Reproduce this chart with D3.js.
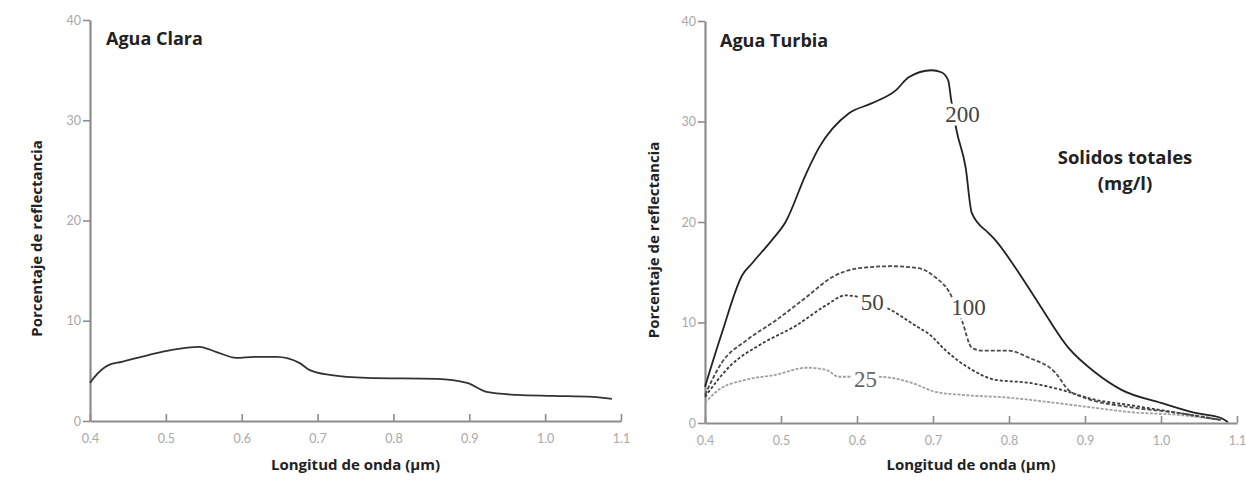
<!DOCTYPE html>
<html>
<head>
<meta charset="utf-8">
<script src="https://cdn.jsdelivr.net/npm/d3@7"></script>
<style>
  body { margin: 0; background: #fff; }
  svg { display: block; }
</style>
</head>
<body>
<div id="chart"></div>
<script>
// tick values
let xTicks = [0.4, 0.5, 0.6, 0.7, 0.8, 0.9, 1.0, 1.1];
let yTicks = [0, 10, 20, 30, 40];

// Agua Clara
let wlClara = [0.400, 0.405, 0.425, 0.442, 0.478, 0.508, 0.544, 0.566, 0.593, 0.617, 0.646, 0.676, 0.689, 0.716, 0.765, 0.857, 0.897, 0.923, 0.963, 1.010, 1.063, 1.088];
let rClara  = [3.8, 4.3, 5.6, 5.9, 6.6, 7.1, 7.4, 6.9, 6.3, 6.4, 6.4, 5.8, 5.1, 4.6, 4.3, 4.2, 3.8, 2.9, 2.6, 2.5, 2.4, 2.2];

// Agua Turbia, solidos totales (mg/l)
let wl200 = [0.400, 0.422, 0.449, 0.462, 0.488, 0.506, 0.533, 0.550, 0.589, 0.619, 0.651, 0.668, 0.698, 0.711, 0.720, 0.724, 0.731, 0.743, 0.751, 0.773, 0.782, 0.808, 0.839, 0.878, 0.914, 0.948, 1.000, 1.045, 1.079, 1.088];
let r200  = [3.6, 8.9, 14.7, 15.9, 18.2, 20.0, 24.8, 27.4, 30.8, 31.8, 33.1, 34.4, 35.1, 34.9, 34.1, 32.1, 29.1, 25.4, 20.9, 18.9, 18.2, 15.5, 11.9, 7.5, 5.0, 3.3, 2.0, 1.0, 0.5, 0.1];

let wl100 = [0.400, 0.422, 0.454, 0.493, 0.533, 0.567, 0.602, 0.646, 0.681, 0.703, 0.720, 0.738, 0.751, 0.764, 0.799, 0.826, 0.861, 0.878, 0.900, 0.957, 1.023, 1.079];
let r100  = [2.8, 6.0, 8.2, 10.2, 12.5, 14.5, 15.4, 15.6, 15.4, 14.5, 13.2, 10.2, 7.5, 7.2, 7.2, 6.5, 5.0, 3.3, 2.5, 1.6, 1.0, 0.3];

let wl50 = [0.400, 0.432, 0.475, 0.520, 0.559, 0.585, 0.638, 0.681, 0.694, 0.717, 0.751, 0.782, 0.826, 0.869, 0.914, 0.957, 1.023, 1.079];
let r50  = [2.6, 5.6, 7.9, 9.7, 11.7, 12.7, 11.5, 9.5, 8.9, 7.2, 5.3, 4.3, 4.0, 3.3, 2.3, 1.8, 1.0, 0.3];

let wl25 = [0.400, 0.418, 0.454, 0.493, 0.533, 0.559, 0.576, 0.629, 0.672, 0.703, 0.738, 0.803, 0.861, 0.914, 0.957, 1.023, 1.079];
let r25  = [2.0, 3.3, 4.3, 4.8, 5.5, 5.3, 4.6, 4.6, 4.0, 3.1, 2.8, 2.5, 2.0, 1.5, 1.1, 0.8, 0.3];

let svg = d3.select("#chart")
    .append("svg")
    .attr("width", 1246)
    .attr("height", 481);

let tickFont = "Lato, 'Open Sans', sans-serif";
let boldFont = "'Open Sans', Lato, sans-serif";

// draws one panel's axes and returns its scales
function drawPanel(xRange, yRange, title, titleX, titleY, yTitleX) {
    let x = d3.scaleLinear().domain([0.4, 1.1]).range(xRange);
    let y = d3.scaleLinear().domain([0, 40]).range(yRange);

    let gx = svg.append("g")
        .attr("transform", "translate(0," + yRange[0] + ")")
        .call(d3.axisBottom(x).tickValues(xTicks).tickFormat(d3.format(".1f"))
            .tickSizeInner(-7).tickSizeOuter(0).tickPadding(13));
    let gy = svg.append("g")
        .attr("transform", "translate(" + xRange[0] + ",0)")
        .call(d3.axisLeft(y).tickValues(yTicks).tickSizeInner(7).tickSizeOuter(0).tickPadding(2));

    [gx, gy].forEach(g => {
        g.select(".domain").attr("stroke", "#8c8c8c").attr("stroke-width", 2.2);
        g.selectAll(".tick line").attr("stroke", "#8c8c8c").attr("stroke-width", 1.6);
        g.selectAll(".tick text")
            .attr("fill", "#a8a8a8")
            .style("font-family", tickFont)
            .style("font-size", "12.5px");
    });

    svg.append("text")
        .attr("x", titleX).attr("y", titleY)
        .style("font-family", boldFont).style("font-weight", "bold")
        .style("font-size", "18px").attr("fill", "#222")
        .text(title);

    svg.append("text")
        .attr("x", (xRange[0] + xRange[1]) / 2).attr("y", 470)
        .attr("text-anchor", "middle")
        .style("font-family", boldFont).style("font-weight", "bold")
        .style("font-size", "15px").attr("fill", "#222")
        .text("Longitud de onda (\u00b5m)");

    svg.append("text")
        .attr("transform", "translate(" + yTitleX + "," + ((yRange[0] + yRange[1]) / 2 + 18) + ") rotate(-90)")
        .attr("text-anchor", "middle")
        .style("font-family", boldFont).style("font-weight", "bold")
        .style("font-size", "15px").attr("fill", "#222")
        .text("Porcentaje de reflectancia");

    return {x: x, y: y};
}

function drawLine(sc, wl, r, color, width, dash) {
    let pts = wl.map((d, i) => [d, r[i]]);
    svg.append("path")
        .datum(pts)
        .attr("fill", "none")
        .attr("stroke", color)
        .attr("stroke-width", width)
        .attr("stroke-dasharray", dash)
        .attr("d", d3.line()
            .x(d => sc.x(d[0]))
            .y(d => sc.y(d[1]))
            .curve(d3.curveMonotoneX));
}

function curveLabel(sc, wl, r, txt, color) {
    svg.append("text")
        .attr("x", sc.x(wl)).attr("y", sc.y(r))
        .style("font-family", "'Liberation Serif', 'DejaVu Serif', serif")
        .style("font-size", "23px")
        .attr("fill", color)
        .attr("stroke", "#fff").attr("stroke-width", 7)
        .style("paint-order", "stroke")
        .text(txt);
}

// Agua Clara
let left = drawPanel([90, 621], [421, 20], "Agua Clara", 106, 45, 42);
drawLine(left, wlClara, rClara, "#333", 1.8, null);

// Agua Turbia
let right = drawPanel([705, 1237], [423, 21], "Agua Turbia", 720, 47, 659);
drawLine(right, wl25, r25, "#a0a0a0", 1.8, "3,1.5");
drawLine(right, wl50, r50, "#3a3a3a", 1.8, "3,2");
drawLine(right, wl100, r100, "#4a4a4a", 1.8, "4,2");
drawLine(right, wl200, r200, "#222", 1.8, null);

curveLabel(right, 0.716, 30.0, "200", "#444");
curveLabel(right, 0.724, 10.7, "100", "#444");
curveLabel(right, 0.605, 11.2, "50", "#444");
curveLabel(right, 0.596, 3.6, "25", "#666");

// legend title
svg.append("text")
    .attr("x", 1125).attr("y", 164)
    .attr("text-anchor", "middle")
    .style("font-family", boldFont).style("font-weight", "bold")
    .style("font-size", "18.5px").attr("fill", "#222")
    .text("Solidos totales");
svg.append("text")
    .attr("x", 1125).attr("y", 190)
    .attr("text-anchor", "middle")
    .style("font-family", boldFont).style("font-weight", "bold")
    .style("font-size", "18.5px").attr("fill", "#222")
    .text("(mg/l)");
</script>
</body>
</html>
